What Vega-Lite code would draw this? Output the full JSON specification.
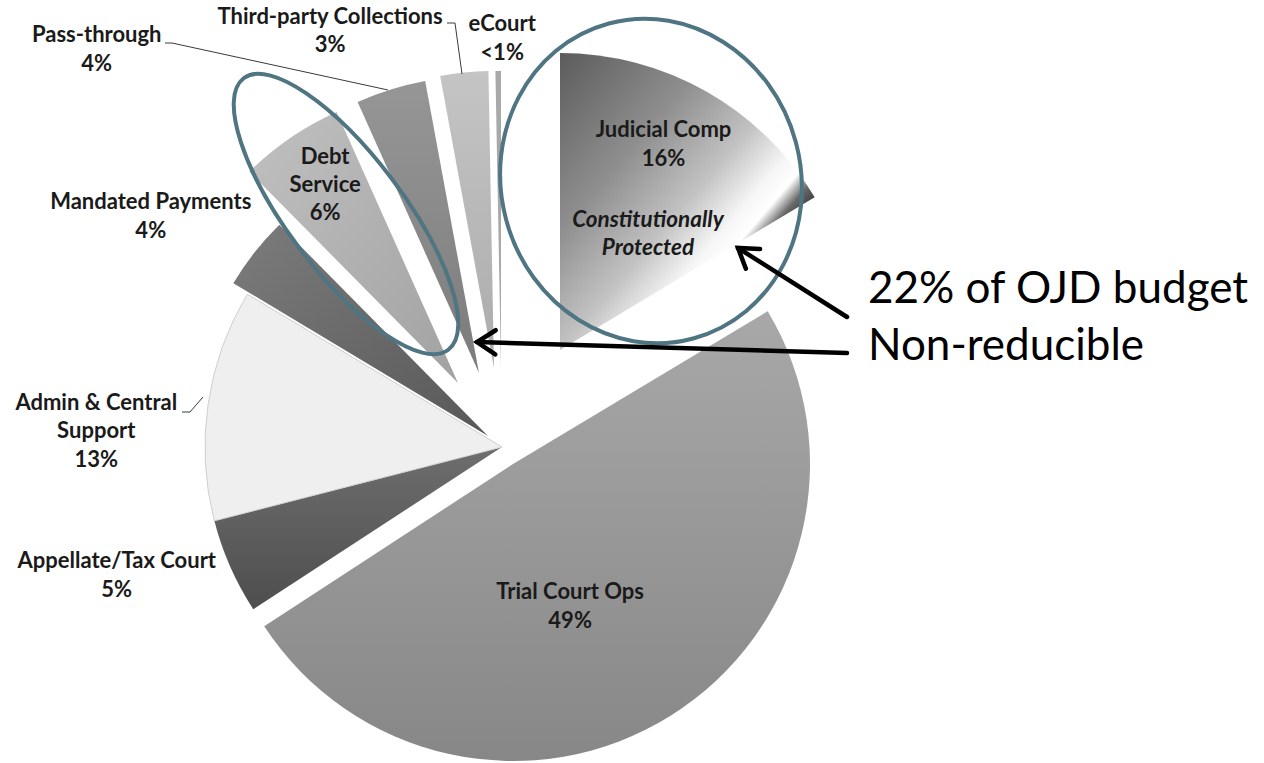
{
  "$schema": "https://vega.github.io/schema/vega-lite/v6.json",
  "width": 1004,
  "height": 632,
  "autosize": "none",
  "padding": {"left": 0, "top": 131, "right": 260, "bottom": 0},
  "background": "white",
  "config": {"view": {"stroke": null}, "font": "Lato"},
  "datasets": {
    "budget": [
      {"category": "Judicial Comp", "value": 16.4, "ord": 1, "label": "Judicial Comp\n16%"},
      {"category": "Trial Court Ops", "value": 49.4, "ord": 2, "label": "Trial Court Ops\n49%"},
      {"category": "Appellate/Tax Court", "value": 5.2, "ord": 3, "label": "Appellate/Tax Court\n5%"},
      {"category": "Admin & Central Support", "value": 12.6, "ord": 4, "label": "Admin & Central\nSupport\n13%"},
      {"category": "Mandated Payments", "value": 4.0, "ord": 5, "label": "Mandated Payments\n4%"},
      {"category": "Debt Service", "value": 5.7, "ord": 6, "label": "Debt\nService\n6%"},
      {"category": "Pass-through", "value": 3.8, "ord": 7, "label": "Pass-through\n4%"},
      {"category": "Third-party Collections", "value": 2.6, "ord": 8, "label": "Third-party Collections\n3%"},
      {"category": "eCourt", "value": 0.3, "ord": 9, "label": "eCourt\n<1%"}
    ],
    "leaders": [
      {"lid": "pass", "o": 1, "x": -337, "y": 404},
      {"lid": "pass", "o": 2, "x": -330, "y": 404},
      {"lid": "pass", "o": 3, "x": -114, "y": 357},
      {"lid": "third", "o": 1, "x": -55, "y": 424},
      {"lid": "third", "o": 2, "x": -47, "y": 424},
      {"lid": "third", "o": 3, "x": -40, "y": 373},
      {"lid": "admin", "o": 1, "x": -320, "y": 35},
      {"lid": "admin", "o": 2, "x": -312, "y": 35},
      {"lid": "admin", "o": 3, "x": -299, "y": 50}
    ],
    "arrows": [
      {"aid": "up", "x": 345, "y": 130, "x2": 236, "y2": 199},
      {"aid": "left", "x": 345, "y": 94, "x2": -25, "y2": 105}
    ],
    "notes": [
      {"nid": "big", "x": 366, "y": 144, "text": "22% of OJD budget"},
      {"nid": "big", "x": 366, "y": 87, "text": "Non-reducible"},
      {"nid": "const", "x": 146, "y": 227, "text": "Constitutionally\nProtected"}
    ]
  },
  "layer": [
    {
      "data": {"name": "budget"},
      "transform": [
        {"stack": "value", "groupby": [], "sort": [{"field": "ord", "order": "ascending"}], "as": ["v0", "v1"]},
        {"filter": "datum.category === 'Trial Court Ops'"}
      ],
      "mark": {"type": "arc", "radius": 297, "xOffset": 11, "yOffset": 17,
        "fill": {"gradient": "linear", "x1": 0, "y1": 0, "x2": 0, "y2": 1, "stops": [{"offset": 0, "color": "#a8a8a8"}, {"offset": 1, "color": "#878787"}]}},
      "encoding": {"theta": {"field": "v0", "type": "quantitative", "scale": {"domain": [0, 100]}}, "theta2": {"field": "v1"}}
    },
    {
      "data": {"name": "budget"},
      "transform": [
        {"stack": "value", "groupby": [], "sort": [{"field": "ord", "order": "ascending"}], "as": ["v0", "v1"]},
        {"filter": "datum.category === 'Appellate/Tax Court'"}
      ],
      "mark": {"type": "arc", "radius": 297,
        "fill": {"gradient": "linear", "x1": 0, "y1": 0, "x2": 0, "y2": 1, "stops": [{"offset": 0, "color": "#6e6e6e"}, {"offset": 1, "color": "#4e4e4e"}]}},
      "encoding": {"theta": {"field": "v0", "type": "quantitative", "scale": {"domain": [0, 100]}}, "theta2": {"field": "v1"}}
    },
    {
      "data": {"name": "budget"},
      "transform": [
        {"stack": "value", "groupby": [], "sort": [{"field": "ord", "order": "ascending"}], "as": ["v0", "v1"]},
        {"filter": "datum.category === 'Admin & Central Support'"}
      ],
      "mark": {"type": "arc", "radius": 297, "fill": "#efefef", "stroke": "#cfcfcf", "strokeWidth": 1},
      "encoding": {"theta": {"field": "v0", "type": "quantitative", "scale": {"domain": [0, 100]}}, "theta2": {"field": "v1"}}
    },
    {
      "data": {"name": "budget"},
      "transform": [
        {"stack": "value", "groupby": [], "sort": [{"field": "ord", "order": "ascending"}], "as": ["v0", "v1"]},
        {"filter": "datum.category === 'Mandated Payments'"}
      ],
      "mark": {"type": "arc", "radius": 297, "xOffset": -14, "yOffset": -11,
        "fill": {"gradient": "linear", "x1": 0, "y1": 0, "x2": 1, "y2": 1, "stops": [{"offset": 0, "color": "#7c7c7c"}, {"offset": 1, "color": "#585858"}]}},
      "encoding": {"theta": {"field": "v0", "type": "quantitative", "scale": {"domain": [0, 100]}}, "theta2": {"field": "v1"}}
    },
    {
      "data": {"name": "budget"},
      "transform": [
        {"stack": "value", "groupby": [], "sort": [{"field": "ord", "order": "ascending"}], "as": ["v0", "v1"]},
        {"filter": "datum.category === 'Debt Service'"}
      ],
      "mark": {"type": "arc", "radius": 297, "xOffset": -44, "yOffset": -64,
        "fill": {"gradient": "linear", "x1": 0, "y1": 0, "x2": 1, "y2": 1, "stops": [{"offset": 0, "color": "#c0c0c0"}, {"offset": 1, "color": "#a2a2a2"}]}},
      "encoding": {"theta": {"field": "v0", "type": "quantitative", "scale": {"domain": [0, 100]}}, "theta2": {"field": "v1"}}
    },
    {
      "data": {"name": "budget"},
      "transform": [
        {"stack": "value", "groupby": [], "sort": [{"field": "ord", "order": "ascending"}], "as": ["v0", "v1"]},
        {"filter": "datum.category === 'Pass-through'"}
      ],
      "mark": {"type": "arc", "radius": 297, "xOffset": -23, "yOffset": -74,
        "fill": {"gradient": "linear", "x1": 0, "y1": 0, "x2": 0, "y2": 1, "stops": [{"offset": 0, "color": "#969696"}, {"offset": 1, "color": "#7c7c7c"}]}},
      "encoding": {"theta": {"field": "v0", "type": "quantitative", "scale": {"domain": [0, 100]}}, "theta2": {"field": "v1"}}
    },
    {
      "data": {"name": "budget"},
      "transform": [
        {"stack": "value", "groupby": [], "sort": [{"field": "ord", "order": "ascending"}], "as": ["v0", "v1"]},
        {"filter": "datum.category === 'Third-party Collections'"}
      ],
      "mark": {"type": "arc", "radius": 297, "xOffset": -8, "yOffset": -79,
        "fill": {"gradient": "linear", "x1": 0, "y1": 0, "x2": 0, "y2": 1, "stops": [{"offset": 0, "color": "#c4c4c4"}, {"offset": 1, "color": "#acacac"}]}},
      "encoding": {"theta": {"field": "v0", "type": "quantitative", "scale": {"domain": [0, 100]}}, "theta2": {"field": "v1"}}
    },
    {
      "data": {"name": "budget"},
      "transform": [
        {"stack": "value", "groupby": [], "sort": [{"field": "ord", "order": "ascending"}], "as": ["v0", "v1"]},
        {"filter": "datum.category === 'eCourt'"}
      ],
      "mark": {"type": "arc", "radius": 297, "xOffset": -1, "yOffset": -79, "fill": "#a9a9a9"},
      "encoding": {"theta": {"field": "v0", "type": "quantitative", "scale": {"domain": [0, 100]}}, "theta2": {"field": "v1"}}
    },
    {
      "data": {"name": "budget"},
      "transform": [
        {"stack": "value", "groupby": [], "sort": [{"field": "ord", "order": "ascending"}], "as": ["v0", "v1"]},
        {"filter": "datum.category === 'Judicial Comp'"}
      ],
      "mark": {"type": "arc", "radius": 297, "xOffset": 58, "yOffset": -97,
        "fill": {"gradient": "linear", "x1": 0, "y1": 0, "x2": 1, "y2": 1, "stops": [
          {"offset": 0, "color": "#5c5c5c"}, {"offset": 0.3, "color": "#8e8e8e"}, {"offset": 0.5, "color": "#c2c2c2"},
          {"offset": 0.62, "color": "#f6f6f6"}, {"offset": 0.67, "color": "#ffffff"}, {"offset": 0.71, "color": "#6a6a6a"},
          {"offset": 0.76, "color": "#2e2e2e"}, {"offset": 1, "color": "#2e2e2e"}]}},
      "encoding": {"theta": {"field": "v0", "type": "quantitative", "scale": {"domain": [0, 100]}}, "theta2": {"field": "v1"}}
    },
    {
      "data": {"name": "budget"},
      "mark": {"type": "text", "radius": 340, "dx": -6, "dy": -21.5, "fontWeight": "bold", "fontSize": 22, "lineHeight": 29, "lineBreak": "\n", "align": "center", "baseline": "middle", "color": "#1a1a1a"},
      "encoding": {
        "theta": {"field": "value", "type": "quantitative", "stack": true, "scale": {"domain": [0, 100]}},
        "order": {"field": "ord", "type": "quantitative"},
        "detail": {"field": "category"},
        "text": {"condition": {"test": "datum.category === 'Judicial Comp'", "field": "label"}, "value": ""}
      }
    },
    {
      "data": {"name": "budget"},
      "mark": {"type": "text", "radius": 185, "dx": -30, "dy": -11.5, "fontWeight": "bold", "fontSize": 22, "lineHeight": 29, "lineBreak": "\n", "align": "center", "baseline": "middle", "color": "#1a1a1a"},
      "encoding": {
        "theta": {"field": "value", "type": "quantitative", "stack": true, "scale": {"domain": [0, 100]}},
        "order": {"field": "ord", "type": "quantitative"},
        "detail": {"field": "category"},
        "text": {"condition": {"test": "datum.category === 'Trial Court Ops'", "field": "label"}, "value": ""}
      }
    },
    {
      "data": {"name": "budget"},
      "mark": {"type": "text", "radius": 410, "dx": -10, "dy": -51.5, "fontWeight": "bold", "fontSize": 22, "lineHeight": 29, "lineBreak": "\n", "align": "center", "baseline": "middle", "color": "#1a1a1a"},
      "encoding": {
        "theta": {"field": "value", "type": "quantitative", "stack": true, "scale": {"domain": [0, 100]}},
        "order": {"field": "ord", "type": "quantitative"},
        "detail": {"field": "category"},
        "text": {"condition": {"test": "datum.category === 'Appellate/Tax Court'", "field": "label"}, "value": ""}
      }
    },
    {
      "data": {"name": "budget"},
      "mark": {"type": "text", "radius": 410, "dx": 0, "dy": 15, "fontWeight": "bold", "fontSize": 22, "lineHeight": 28.5, "lineBreak": "\n", "align": "center", "baseline": "middle", "color": "#1a1a1a"},
      "encoding": {
        "theta": {"field": "value", "type": "quantitative", "stack": true, "scale": {"domain": [0, 100]}},
        "order": {"field": "ord", "type": "quantitative"},
        "detail": {"field": "category"},
        "text": {"condition": {"test": "datum.category === 'Admin & Central Support'", "field": "label"}, "value": ""}
      }
    },
    {
      "data": {"name": "budget"},
      "mark": {"type": "text", "radius": 420, "dx": -21, "dy": 14.5, "fontWeight": "bold", "fontSize": 22, "lineHeight": 29, "lineBreak": "\n", "align": "center", "baseline": "middle", "color": "#1a1a1a"},
      "encoding": {
        "theta": {"field": "value", "type": "quantitative", "stack": true, "scale": {"domain": [0, 100]}},
        "order": {"field": "ord", "type": "quantitative"},
        "detail": {"field": "category"},
        "text": {"condition": {"test": "datum.category === 'Mandated Payments'", "field": "label"}, "value": ""}
      }
    },
    {
      "data": {"name": "budget"},
      "mark": {"type": "text", "radius": 315, "dx": 1, "dy": -30, "fontWeight": "bold", "fontSize": 22, "lineHeight": 28, "lineBreak": "\n", "align": "center", "baseline": "middle", "color": "#1a1a1a"},
      "encoding": {
        "theta": {"field": "value", "type": "quantitative", "stack": true, "scale": {"domain": [0, 100]}},
        "order": {"field": "ord", "type": "quantitative"},
        "detail": {"field": "category"},
        "text": {"condition": {"test": "datum.category === 'Debt Service'", "field": "label"}, "value": ""}
      }
    },
    {
      "data": {"name": "budget"},
      "mark": {"type": "text", "radius": 415, "dx": -282, "dy": -15.5, "fontWeight": "bold", "fontSize": 22, "lineHeight": 29, "lineBreak": "\n", "align": "center", "baseline": "middle", "color": "#1a1a1a"},
      "encoding": {
        "theta": {"field": "value", "type": "quantitative", "stack": true, "scale": {"domain": [0, 100]}},
        "order": {"field": "ord", "type": "quantitative"},
        "detail": {"field": "category"},
        "text": {"condition": {"test": "datum.category === 'Pass-through'", "field": "label"}, "value": ""}
      }
    },
    {
      "data": {"name": "budget"},
      "mark": {"type": "text", "radius": 418, "dx": -130, "dy": -14, "fontWeight": "bold", "fontSize": 22, "lineHeight": 28, "lineBreak": "\n", "align": "center", "baseline": "middle", "color": "#1a1a1a"},
      "encoding": {
        "theta": {"field": "value", "type": "quantitative", "stack": true, "scale": {"domain": [0, 100]}},
        "order": {"field": "ord", "type": "quantitative"},
        "detail": {"field": "category"},
        "text": {"condition": {"test": "datum.category === 'Third-party Collections'", "field": "label"}, "value": ""}
      }
    },
    {
      "data": {"name": "budget"},
      "mark": {"type": "text", "radius": 409, "dx": 4, "dy": -14.5, "fontWeight": "bold", "fontSize": 22, "lineHeight": 29, "lineBreak": "\n", "align": "center", "baseline": "middle", "color": "#1a1a1a"},
      "encoding": {
        "theta": {"field": "value", "type": "quantitative", "stack": true, "scale": {"domain": [0, 100]}},
        "order": {"field": "ord", "type": "quantitative"},
        "detail": {"field": "category"},
        "text": {"condition": {"test": "datum.category === 'eCourt'", "field": "label"}, "value": ""}
      }
    },
    {
      "data": {"name": "leaders"},
      "mark": {"type": "line", "color": "#3a3a3a", "strokeWidth": 1},
      "encoding": {
        "x": {"field": "x", "type": "quantitative", "scale": {"domain": [-502, 502], "nice": false, "zero": false}, "axis": null},
        "y": {"field": "y", "type": "quantitative", "scale": {"domain": [-316, 316], "nice": false, "zero": false}, "axis": null},
        "detail": {"field": "lid"},
        "order": {"field": "o", "type": "quantitative"}
      }
    },
    {
      "data": {"name": "notes"},
      "transform": [{"filter": "datum.nid === 'const'"}],
      "mark": {"type": "text", "fontWeight": "bold", "fontStyle": "italic", "fontSize": 22.5, "lineHeight": 28, "lineBreak": "\n", "align": "center", "baseline": "middle", "color": "#1a1a1a"},
      "encoding": {
        "x": {"field": "x", "type": "quantitative", "scale": {"domain": [-502, 502], "nice": false, "zero": false}, "axis": null},
        "y": {"field": "y", "type": "quantitative", "scale": {"domain": [-316, 316], "nice": false, "zero": false}, "axis": null},
        "text": {"field": "text"}
      }
    },
    {
      "data": {"values": [{"x": 149, "y": 266}]},
      "mark": {"type": "point", "shape": "M 0.92,0 C 0.92,0.552 0.508,1 0,1 C -0.508,1 -0.92,0.552 -0.92,0 C -0.92,-0.552 -0.508,-1 0,-1 C 0.508,-1 0.92,-0.552 0.92,0 Z", "size": 106276, "filled": false, "opacity": 1, "stroke": "#4f7582", "strokeWidth": 4, "angle": -15},
      "encoding": {
        "x": {"field": "x", "type": "quantitative", "scale": {"domain": [-502, 502], "nice": false, "zero": false}, "axis": null},
        "y": {"field": "y", "type": "quantitative", "scale": {"domain": [-316, 316], "nice": false, "zero": false}, "axis": null}
      }
    },
    {
      "data": {"values": [{"x": -156, "y": 233}]},
      "mark": {"type": "point", "shape": "M 0.34,0 C 0.34,0.552 0.188,1 0,1 C -0.188,1 -0.34,0.552 -0.34,0 C -0.34,-0.552 -0.188,-1 0,-1 C 0.188,-1 0.34,-0.552 0.34,0 Z", "size": 115600, "filled": false, "opacity": 1, "stroke": "#4f7582", "strokeWidth": 4, "angle": -37},
      "encoding": {
        "x": {"field": "x", "type": "quantitative", "scale": {"domain": [-502, 502], "nice": false, "zero": false}, "axis": null},
        "y": {"field": "y", "type": "quantitative", "scale": {"domain": [-316, 316], "nice": false, "zero": false}, "axis": null}
      }
    },
    {
      "data": {"name": "arrows"},
      "mark": {"type": "rule", "color": "black", "strokeWidth": 4.5, "strokeCap": "round"},
      "encoding": {
        "x": {"field": "x", "type": "quantitative", "scale": {"domain": [-502, 502], "nice": false, "zero": false}, "axis": null},
        "y": {"field": "y", "type": "quantitative", "scale": {"domain": [-316, 316], "nice": false, "zero": false}, "axis": null},
        "x2": {"field": "x2"},
        "y2": {"field": "y2"}
      }
    },
    {
      "data": {"name": "arrows"},
      "transform": [{"filter": "datum.aid === 'up'"}],
      "mark": {"type": "point", "shape": "M 0.84,-0.55 L 0,0 L 0.84,0.55", "size": 1936, "filled": false, "opacity": 1, "stroke": "black", "strokeWidth": 4.5, "strokeCap": "round", "strokeJoin": "miter", "angle": 36},
      "encoding": {
        "x": {"field": "x2", "type": "quantitative", "scale": {"domain": [-502, 502], "nice": false, "zero": false}, "axis": null},
        "y": {"field": "y2", "type": "quantitative", "scale": {"domain": [-316, 316], "nice": false, "zero": false}, "axis": null}
      }
    },
    {
      "data": {"name": "arrows"},
      "transform": [{"filter": "datum.aid === 'left'"}],
      "mark": {"type": "point", "shape": "M 0.84,-0.55 L 0,0 L 0.84,0.55", "size": 1936, "filled": false, "opacity": 1, "stroke": "black", "strokeWidth": 4.5, "strokeCap": "round", "strokeJoin": "miter", "angle": 1},
      "encoding": {
        "x": {"field": "x2", "type": "quantitative", "scale": {"domain": [-502, 502], "nice": false, "zero": false}, "axis": null},
        "y": {"field": "y2", "type": "quantitative", "scale": {"domain": [-316, 316], "nice": false, "zero": false}, "axis": null}
      }
    },
    {
      "data": {"name": "notes"},
      "transform": [{"filter": "datum.nid === 'big'"}],
      "mark": {"type": "text", "fontSize": 44, "align": "left", "baseline": "alphabetic", "color": "black"},
      "encoding": {
        "x": {"field": "x", "type": "quantitative", "scale": {"domain": [-502, 502], "nice": false, "zero": false}, "axis": null},
        "y": {"field": "y", "type": "quantitative", "scale": {"domain": [-316, 316], "nice": false, "zero": false}, "axis": null},
        "text": {"field": "text"}
      }
    }
  ]
}
